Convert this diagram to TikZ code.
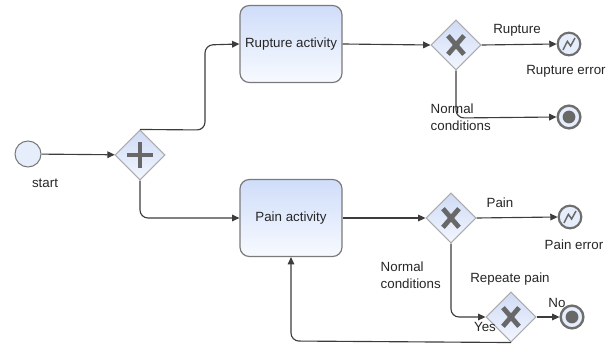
\documentclass[tikz,border=0pt]{standalone}
\usepackage{fontspec}
\setmainfont{Liberation Sans}
\usetikzlibrary{shapes.geometric,arrows.meta}
\definecolor{linec}{HTML}{3C3C3C}
\definecolor{boxborder}{HTML}{7A7A7A}
\definecolor{boxtop}{HTML}{D0DDF9}
\definecolor{boxbot}{HTML}{F7FAFF}
\definecolor{gwborder}{HTML}{ABABAB}
\definecolor{gwtop}{HTML}{CFDBF5}
\definecolor{gwbot}{HTML}{F2F6FF}
\definecolor{markc}{HTML}{686868}
\definecolor{evfill}{HTML}{E6EDFB}
\definecolor{evborder}{HTML}{6E6E6E}
\begin{document}
\begin{tikzpicture}[x=0.75pt,y=-0.75pt,
  every node/.style={font=\fontsize{10pt}{12.75pt}\selectfont, text=black!85},
  conn/.style={draw=linec,line width=0.85pt,rounded corners=6pt},
  arr/.style={conn,-{Triangle[length=5.5pt,width=5pt]}},
  task/.style={rectangle,rounded corners=7pt,minimum width=76.5pt,minimum height=57.75pt,
    draw=boxborder,line width=0.9pt,top color=boxtop,bottom color=boxbot,inner sep=0pt},
  gw/.style={diamond,minimum width=37.5pt,minimum height=37.5pt,inner sep=0pt,
    draw=gwborder,line width=0.8pt,top color=gwtop,bottom color=gwbot},
  xgw/.style={gw,path picture={
    \draw[markc,line width=3.6pt]
      ([xshift=-6pt,yshift=-7pt]path picture bounding box.center) --
      ([xshift=6pt,yshift=7pt]path picture bounding box.center);
    \draw[markc,line width=3.6pt]
      ([xshift=-6pt,yshift=7pt]path picture bounding box.center) --
      ([xshift=6pt,yshift=-7pt]path picture bounding box.center);}},
  pgw/.style={gw,path picture={
    \draw[markc,line width=3.6pt]
      ([xshift=-10pt]path picture bounding box.center) --
      ([xshift=10pt]path picture bounding box.center);
    \draw[markc,line width=3.6pt]
      ([yshift=-10pt]path picture bounding box.center) --
      ([yshift=10pt]path picture bounding box.center);}},
  startev/.style={circle,minimum size=19.5pt,inner sep=0pt,draw=boxborder,line width=0.8pt,fill=evfill},
  errev/.style={circle,minimum size=17pt,inner sep=0pt,draw=evborder,line width=1.6pt,fill=evfill,
    path picture={
    \draw[markc,line width=1.1pt,line join=miter]
      ([xshift=-4.5pt,yshift=-4.5pt]path picture bounding box.center) --
      ([xshift=-1.2pt,yshift=2pt]path picture bounding box.center) --
      ([xshift=1.2pt,yshift=-1.5pt]path picture bounding box.center) --
      ([xshift=4.5pt,yshift=4.5pt]path picture bounding box.center);}},
  endev/.style={circle,minimum size=17pt,inner sep=0pt,draw=evborder,line width=1.8pt,fill=evfill,
    path picture={\fill[markc] (path picture bounding box.center) circle[radius=4.8pt];}}
]
\useasboundingbox (0,0) rectangle (614,345);

% nodes
\node[startev] (start) at (28,154) {};
\node (lstart) at (45,183) {start};
\node[pgw] (g1) at (140,155) {};
\node[task] (rup) at (291,44) {Rupture activity};
\node[task] (pain) at (291,218) {Pain activity};
\node[xgw] (g2) at (456,45) {};
\node[xgw] (g3) at (451,218) {};
\node[xgw] (g4) at (511,317) {};
\node[errev] (e1) at (569,44) {};
\node[endev] (end1) at (569,117) {};
\node[errev] (e2) at (570,217) {};
\node[endev] (end2) at (572,317) {};

% labels
\node (lrup) at (517,30) {Rupture};
\node (lrupe) at (566,71) {Rupture error};
\node[align=left,anchor=west] (lnc1) at (426,117) {Normal\\conditions};
\node (lpain) at (500,203) {Pain};
\node (lpaine) at (574,245) {Pain error};
\node[align=left,anchor=west] (lnc2) at (376,275.5) {Normal\\conditions};
\node (lrep) at (510,279) {Repeate pain};
\node (lno) at (557,303) {No};
\node (lyes) at (485,327) {Yes};

% connectors
\draw[arr] (start) -- (g1);
\draw[arr] (g1.north) -- (205,130) -- (205,45) -- (rup.west);
\draw[arr] (g1.south) -- (140,218) -- (pain.west);
\draw[arr] (rup.east) -- (g2.west);
\draw[arr] (g2.east) -- (e1.west);
\draw[arr] (g2.south) -- (456,118) -- (end1.west);
\draw[arr] (pain.east) -- (g3.west);
\draw[arr] (g3.east) -- (e2.west);
\draw[arr] (g3.south) -- (451,317) -- (g4.west);
\draw[arr] (g4.east) -- (end2.west);
\draw[arr] (g4.south) -- (291,341) -- (pain.south);
\end{tikzpicture}
\end{document}
